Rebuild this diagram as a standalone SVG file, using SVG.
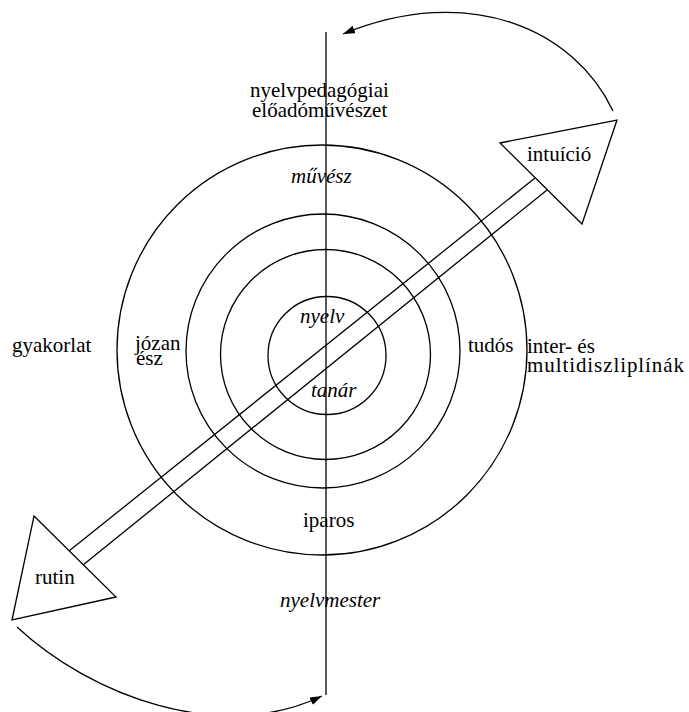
<svg xmlns="http://www.w3.org/2000/svg" width="689" height="712" viewBox="0 0 689 712">
<style>
.ln{fill:none;stroke:#000;stroke-width:1.3}
text{font-family:'Liberation Serif','Tinos','DejaVu Serif',serif;font-size:21px;fill:#000}
.i{font-style:italic}
</style>
<defs>
<marker id="ah" viewBox="0 0 12 8" refX="12" refY="4" markerWidth="12" markerHeight="8" markerUnits="userSpaceOnUse" orient="auto">
<path d="M0,0 L12,4 L0,8 z" fill="#000"/>
</marker>
</defs>
<rect width="689" height="712" fill="#fff"/>
<g id="circles">
<circle class="ln" cx="322" cy="350" r="205"/>
<circle class="ln" cx="323" cy="351" r="137"/>
<circle class="ln" cx="325.5" cy="354.5" r="105"/>
<circle class="ln" cx="327" cy="355.5" r="59"/>
</g>
<g id="connectors">
<line class="ln" x1="326" y1="32" x2="326" y2="695"/>
<line class="ln" x1="69" y1="551" x2="535" y2="178"/>
<line class="ln" x1="83" y1="565" x2="547" y2="190"/>
<path class="ln" d="M613,111 C575,30 470,-18 343,34" marker-end="url(#ah)"/>
<path class="ln" d="M17,627 C90,695 220,745 322,696" marker-end="url(#ah)"/>
</g>
<g id="node-intuicio">
<polygon class="ln" points="500,143 617,120 582,224"/>
<text x="527" y="161">intuíció</text>
</g>
<g id="node-rutin">
<polygon class="ln" points="34,516 116,597 12,620"/>
<text x="35" y="584">rutin</text>
</g>
<g id="node-top">
<text x="250" y="97">nyelvpedagógiai</text>
<text x="252" y="117">előadóművészet</text>
</g>
<g id="node-muvesz"><text class="i" x="291" y="183">művész</text></g>
<g id="node-nyelv"><text class="i" x="300" y="323">nyelv</text></g>
<g id="node-tanar"><text class="i" x="311" y="397">tanár</text></g>
<g id="node-iparos"><text x="303" y="527">iparos</text></g>
<g id="node-nyelvmester"><text class="i" x="280" y="607">nyelvmester</text></g>
<g id="node-gyakorlat"><text x="12" y="352">gyakorlat</text></g>
<g id="node-jozan">
<text x="135" y="350">józan</text>
<text x="136" y="365">ész</text>
</g>
<g id="node-tudos"><text x="468" y="352">tudós</text></g>
<g id="node-inter">
<text x="527" y="353">inter- és</text>
<text x="527" y="372" textLength="157" lengthAdjust="spacing">multidiszliplínák</text>
</g>
</svg>
